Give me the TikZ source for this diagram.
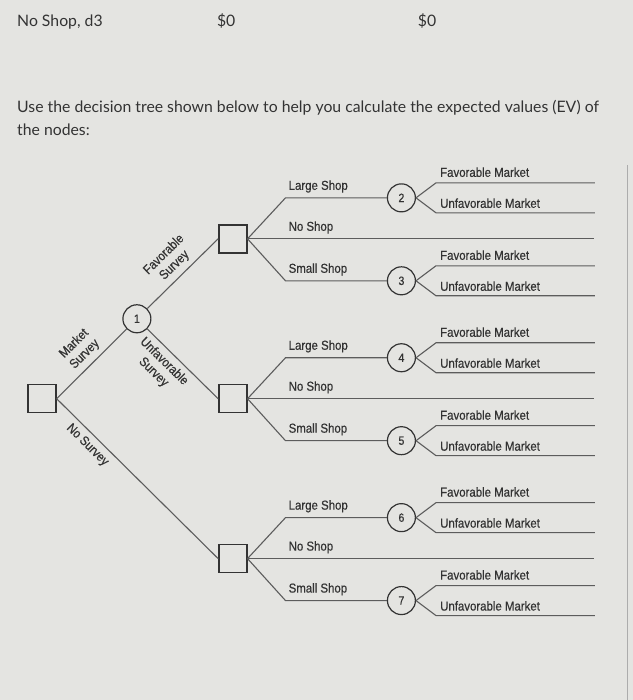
\documentclass[tikz,border=0pt]{standalone}
\usepackage{fontspec}
\setmainfont{Lato}
\newfontfamily\treefont[FakeStretch=0.88,FakeBold=0.5]{Liberation Sans}
\usetikzlibrary{positioning,calc}
\definecolor{PageGray}{HTML}{E4E4E1}
\definecolor{InkGray}{HTML}{333333}
\definecolor{LineGray}{HTML}{5C5C5C}

\begin{document}
\begin{tikzpicture}[x=1pt,y=-1pt,
  decision/.style={draw=InkGray,line width=1.4pt,minimum size=28pt,inner sep=0pt},
  chance/.style={circle,draw=InkGray,line width=1.2pt,minimum size=28pt,inner sep=0pt,
    text=InkGray,font=\treefont\fontsize{12}{12}\selectfont},
  branch/.style={draw=LineGray,line width=1.1pt},
  lbl/.style={font=\treefont\fontsize{13}{15}\selectfont,text=InkGray},
  slant/.style={lbl,sloped,align=center,inner sep=5pt},
  toptext/.style={anchor=base west,inner sep=0pt,text=InkGray,font=\fontsize{15.8}{19}\selectfont}]
  % page
  \fill[PageGray] (0,0) rectangle (633,700);
  \draw[gray!65,line width=1pt] (628,165) -- (628,700);
  % question text
  \node[toptext] (rowname) at (17,27) {No Shop, d3};
  \node[toptext] (rowval) at (217,27) {\$0};
  \node[toptext] (rowev) at (418,27) {\$0};
  \node[toptext] (askline) at (17,113) {Use the decision tree shown below to help you calculate the expected values (EV) of};
  \node[toptext] (askend) at (17,136) {the nodes:};
  % markets after a chance node
  \def\marketfan#1{
    \coordinate (#1f) at ($(#1.east)+(20,-15)$);
    \coordinate (#1u) at ($(#1.east)+(20,15)$);
    \coordinate (#1fe) at ($(#1f)+(159,0)$);
    \coordinate (#1ue) at ($(#1u)+(159,0)$);
    \draw[branch] (#1.east) -- (#1f) -- (#1fe);
    \draw[branch] (#1.east) -- (#1u) -- (#1ue);
    \node[lbl,anchor=base west,inner sep=0pt] (#1fT) at ($(#1f)+(4,-6)$) {Favorable Market};
    \node[lbl,anchor=base west,inner sep=0pt] (#1uT) at ($(#1u)+(4,-5)$) {Unfavorable Market};
  }
  % shop choices after a decision node
  \def\shopfan#1#2#3{
    \coordinate (#1L) at ($(#1.east)+(38,-41)$);
    \coordinate (#1S) at ($(#1.east)+(38,42)$);
    \coordinate (#1N) at ($(#1.east)+(347,0)$);
    \node[chance] (c#2) at ($(#1.east)+(154,-41)$) {#2};
    \node[chance] (c#3) at ($(#1.east)+(154,42)$) {#3};
    \draw[branch] (#1.east) -- (#1L) -- (c#2);
    \draw[branch] (#1.east) -- (#1N);
    \draw[branch] (#1.east) -- (#1S) -- (c#3);
    \node[lbl,anchor=base west,inner sep=0pt] (#1LT) at ($(#1L)+(3,-8)$) {Large Shop};
    \node[lbl,anchor=base west,inner sep=0pt] (#1NT) at ($(#1.east)+(41,-8)$) {No Shop};
    \node[lbl,anchor=base west,inner sep=0pt] (#1ST) at ($(#1S)+(3,-8)$) {Small Shop};
    \marketfan{c#2}
    \marketfan{c#3}
  }
  % survey stage
  \node[decision] (root) at (42,399) {};
  \node[chance] (c1) at (137,319) {1};
  \node[decision] (dFav) at (233,239) {};
  \node[decision] (dUnf) at (233,399) {};
  \node[decision] (dNo) at (233,559) {};
  \draw[branch] (root.east) -- node[slant,above,pos=0.52] (msT) {Market\\Survey} (c1);
  \draw[branch] (root.east) -- node[slant,below,pos=0.24] (nsT) {No Survey} (dNo.west);
  \draw[branch] (c1) -- node[slant,above] (fsT) {Favorable\\Survey} (dFav.west);
  \draw[branch] (c1) -- node[slant,below,pos=0.35] (usT) {Unfavorable\\Survey} (dUnf.west);
  \shopfan{dFav}{2}{3}
  \shopfan{dUnf}{4}{5}
  \shopfan{dNo}{6}{7}
\end{tikzpicture}
\end{document}
